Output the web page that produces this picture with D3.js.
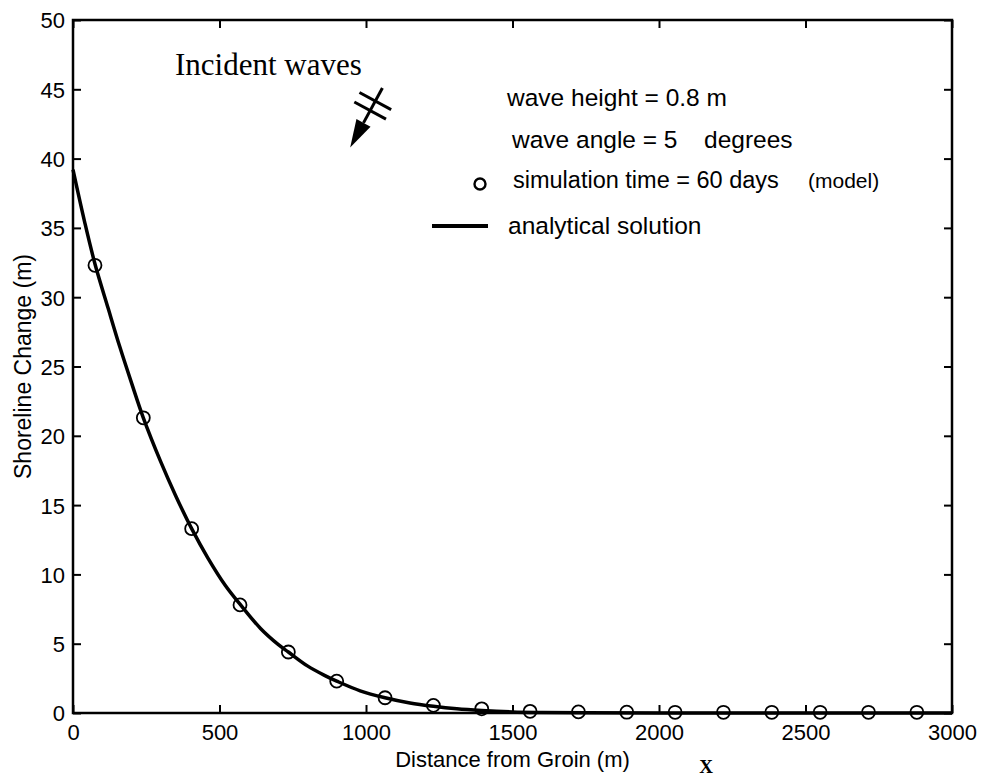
<!DOCTYPE html>
<html>
<head>
<meta charset="utf-8">
<script src="https://cdn.jsdelivr.net/npm/d3@7/dist/d3.min.js"></script>
<style>
  html, body { margin: 0; padding: 0; background: #fff; }
  svg { display: block; }
</style>
</head>
<body>
<svg id="chart" width="989" height="779"></svg>
<script>
// ---- data ----
const xTicks = [0, 500, 1000, 1500, 2000, 2500, 3000];
const yTicks = [0, 5, 10, 15, 20, 25, 30, 35, 40, 45, 50];

// model (simulation time = 60 days) circles
const modelX = [75, 240, 405, 570, 735, 900, 1065, 1230, 1395, 1560, 1725, 1890, 2055, 2220, 2385, 2550, 2715, 2880];
const modelY = [32.3, 21.3, 13.3, 7.8, 4.4, 2.3, 1.1, 0.55, 0.3, 0.12, 0.08, 0.06, 0.05, 0.05, 0.05, 0.05, 0.05, 0.05];

// analytical solution curve
const analyticX = [0, 40, 75, 120, 160, 200, 240, 300, 350, 405, 460, 520, 570, 640, 700, 735, 800, 860, 900, 980, 1065, 1150, 1230, 1310, 1395, 1500, 1600, 1750, 2000, 2500, 3000];
const analyticY = [39.2, 35.4, 32.4, 29.2, 26.4, 23.8, 21.3, 18.1, 15.7, 13.3, 11.2, 9.2, 7.85, 6.1, 4.95, 4.4, 3.4, 2.7, 2.3, 1.6, 1.1, 0.72, 0.48, 0.3, 0.18, 0.08, 0.04, 0.01, 0, 0, 0];

const legendLines = ["wave height = 0.8 m", "wave angle = 5", "degrees", "simulation time = 60 days", "(model)", "analytical solution"];
const xTitle = "Distance from Groin (m)";
const yTitle = "Shoreline Change (m)";
const annotation = "Incident waves";

// ---- layout ----
const svg = d3.select("#chart");
const L = 73, R = 952, T = 20, B = 713;
const x = d3.scaleLinear().domain([0, 3000]).range([L, R]);
const y = d3.scaleLinear().domain([0, 50]).range([B, T]);
const sans = "'Liberation Sans', Arial, Helvetica, sans-serif";
const serif = "'Liberation Serif', 'Times New Roman', serif";

// axes with inward ticks
const tickLen = 8;
const gB = svg.append("g").attr("transform", `translate(0,${B})`)
  .call(d3.axisBottom(x).tickValues(xTicks).tickSizeInner(-tickLen).tickSizeOuter(0).tickPadding(11).tickFormat(d3.format("d")));
const gT = svg.append("g").attr("transform", `translate(0,${T})`)
  .call(d3.axisTop(x).tickValues(xTicks).tickSizeInner(-tickLen).tickSizeOuter(0).tickFormat(""));
const gL = svg.append("g").attr("transform", `translate(${L},0)`)
  .call(d3.axisLeft(y).tickValues(yTicks).tickSizeInner(-tickLen).tickSizeOuter(0).tickPadding(8).tickFormat(d3.format("d")));
const gR = svg.append("g").attr("transform", `translate(${R},0)`)
  .call(d3.axisRight(y).tickValues(yTicks).tickSizeInner(-tickLen).tickSizeOuter(0).tickFormat(""));

[gB, gT, gL, gR].forEach(g => {
  g.select(".domain").remove();
  g.selectAll(".tick line").attr("stroke", "#000").attr("stroke-width", 2);
  g.selectAll(".tick text").attr("fill", "#000").style("font-family", sans).style("font-size", "22px");
});
gL.selectAll(".tick text").attr("dy", "0.36em");

// box
svg.append("rect").attr("x", L).attr("y", T).attr("width", R - L).attr("height", B - T)
  .attr("fill", "none").attr("stroke", "#000").attr("stroke-width", 2.5);

// analytical curve
const line = d3.line().x((d, i) => x(analyticX[i])).y(d => y(d)).curve(d3.curveCatmullRom.alpha(0.5));
svg.append("path").datum(analyticY).attr("d", line)
  .attr("fill", "none").attr("stroke", "#000").attr("stroke-width", 3.5).attr("stroke-linejoin", "round");

// model circles
svg.append("g").selectAll("circle").data(modelY).join("circle")
  .attr("cx", (d, i) => x(modelX[i])).attr("cy", d => y(d)).attr("r", 6.5)
  .attr("fill", "none").attr("stroke", "#000").attr("stroke-width", 1.8);

// axis titles
svg.append("text").attr("x", (L + R) / 2).attr("y", 767).attr("text-anchor", "middle")
  .style("font-family", sans).style("font-size", "22px").text(xTitle);
svg.append("text").attr("transform", `translate(31,${(T + B) / 2}) rotate(-90)`).attr("text-anchor", "middle")
  .style("font-family", sans).style("font-size", "23px").text(yTitle);
svg.append("text").attr("x", 706).attr("y", 773).attr("text-anchor", "middle")
  .style("font-family", serif).style("font-size", "19px").style("font-weight", "bold").text("X");

// annotation
svg.append("text").attr("x", 175).attr("y", 75)
  .style("font-family", serif).style("font-size", "31px").text(annotation);

// wave arrow (in data units)
const tip = [x(946), y(40.8)], tail = [x(1056), y(45.1)];
const dx = tip[0] - tail[0], dy = tip[1] - tail[1], len = Math.hypot(dx, dy);
const ux = dx / len, uy = dy / len, px = -uy, py = ux;
const headLen = 28, headW = 8;
const base = [tip[0] - ux * headLen, tip[1] - uy * headLen];
svg.append("line").attr("x1", tail[0]).attr("y1", tail[1]).attr("x2", base[0]).attr("y2", base[1])
  .attr("stroke", "#000").attr("stroke-width", 3);
svg.append("path").attr("d", `M${tip[0]},${tip[1]} L${base[0] + px * headW},${base[1] + py * headW} L${base[0] - px * headW},${base[1] - py * headW} Z`)
  .attr("fill", "#000");
[0.22, 0.38].forEach(f => {
  const c = [tail[0] + dx * f, tail[1] + dy * f];
  svg.append("line")
    .attr("x1", c[0] - px * 18).attr("y1", c[1] - py * 18)
    .attr("x2", c[0] + px * 18).attr("y2", c[1] + py * 18)
    .attr("stroke", "#000").attr("stroke-width", 3);
});

// legend / parameter text
const lg = svg.append("g").style("font-family", sans).style("font-size", "24.5px");
lg.append("text").attr("x", 507).attr("y", 106).text(legendLines[0]);
lg.append("text").attr("x", 512).attr("y", 148).text(legendLines[1]);
lg.append("text").attr("x", 704).attr("y", 148).text(legendLines[2]);
lg.append("circle").attr("cx", 480).attr("cy", 184).attr("r", 5.5).attr("fill", "none").attr("stroke", "#000").attr("stroke-width", 2.4);
lg.append("text").attr("x", 513).attr("y", 188).style("font-size", "23.5px").text(legendLines[3]);
lg.append("text").attr("x", 808).attr("y", 188).style("font-size", "21px").text(legendLines[4]);
lg.append("line").attr("x1", 432).attr("x2", 488).attr("y1", 226).attr("y2", 226).attr("stroke", "#000").attr("stroke-width", 4);
lg.append("text").attr("x", 508).attr("y", 234).text(legendLines[5]);
</script>
</body>
</html>
